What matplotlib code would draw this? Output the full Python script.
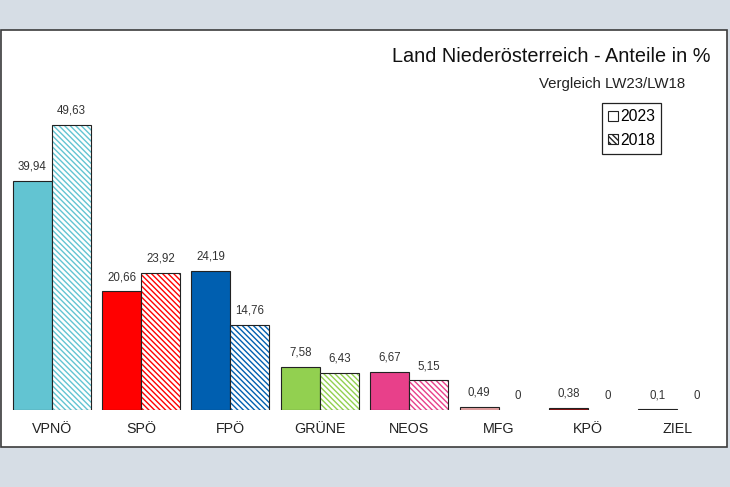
import matplotlib
matplotlib.use("Agg")
import matplotlib.pyplot as plt
from matplotlib.patches import Rectangle, Patch
import numpy as np

parties = ["VPNÖ", "SPÖ", "FPÖ", "GRÜNE", "NEOS", "MFG", "KPÖ", "ZIEL"]
values_2023 = [39.94, 20.66, 24.19, 7.58, 6.67, 0.49, 0.38, 0.1]
values_2018 = [49.63, 23.92, 14.76, 6.43, 5.15, 0, 0, 0]
colors = ["#62c4d2", "#ff0000", "#005fb0", "#92d050", "#e8408a", "#e8a4a4", "#8b1212", "#1a1a1a"]
series_labels = ["2023", "2018"]
title = "Land Niederösterreich - Anteile in %"
subtitle = "Vergleich LW23/LW18"

plt.rcParams['font.family'] = ['Liberation Sans', 'DejaVu Sans']
plt.rcParams['hatch.linewidth'] = 1.0

W, H = 730, 487
fig = plt.figure(figsize=(W / 100, H / 100), dpi=100, facecolor="#d6dde5")

# white panel
fig.patches.append(Rectangle((1 / W, (H - 447) / H), 726 / W, 417 / H,
                             transform=fig.transFigure, facecolor="white",
                             edgecolor="#3c3c3c", linewidth=1.2, zorder=-5))

ax = fig.add_axes([7 / W, (H - 410) / H, 715 / W, 370 / H])
ax.set_zorder(2)
ax.set_facecolor("none")
ax.set_xlim(-0.5, len(parties) - 0.5)
ax.set_ylim(0, 64.5)
for s in ax.spines.values():
    s.set_visible(False)
ax.set_yticks([])

x = np.arange(len(parties))
w = 0.436
hatch = "\\\\\\\\\\\\"

def fmt(v):
    return f"{v:g}".replace(".", ",")

lw23 = [0.8 if v > 0 else 0 for v in values_2023]
lw18 = [0.8 if v > 0 else 0 for v in values_2018]

# 2023 bars
ax.bar(x - w / 2, values_2023, w, color=colors, edgecolor="#222222", linewidth=lw23, zorder=2)
# 2018 bars: hatched
ax.bar(x + w / 2, values_2018, w, facecolor="white", edgecolor=colors, hatch=hatch,
       linewidth=0, zorder=2)
ax.bar(x + w / 2, values_2018, w, fill=False, edgecolor="#222222", linewidth=lw18, zorder=3)

for xi, v in zip(x - w / 2, values_2023):
    ax.annotate(fmt(v), (xi, v), xytext=(0, 6), textcoords="offset points",
                ha="center", va="bottom", fontsize=8.3, color="#333333")
for xi, v in zip(x + w / 2, values_2018):
    ax.annotate(fmt(v), (xi, v), xytext=(0, 6), textcoords="offset points",
                ha="center", va="bottom", fontsize=8.3, color="#333333")

ax.set_xticks(x)
ax.set_xticklabels(parties, fontsize=10.3, color="#222222")
ax.tick_params(axis="x", length=0, pad=8.5)

fig.text(710 / W, 1 - 57 / H, title, ha="right", va="center", fontsize=14.3, color="#111111")
fig.text(685 / W, 1 - 84 / H, subtitle, ha="right", va="center", fontsize=10.8, color="#222222")

handles = [Patch(facecolor="white", edgecolor="#222222", linewidth=0.8),
           Patch(facecolor="white", edgecolor="#222222", hatch=hatch, linewidth=0.8)]
leg = fig.legend(handles, series_labels, loc="upper left",
                 bbox_to_anchor=(602 / W, 1 - 103 / H), fontsize=11.3,
                 handlelength=0.6, handleheight=0.6, handletextpad=0.15,
                 borderpad=0.4, labelspacing=0.55, borderaxespad=0,
                 fancybox=False, framealpha=1, edgecolor="#222222")
leg.get_frame().set_linewidth(0.9)

fig.savefig("out.png", dpi=100, facecolor=fig.get_facecolor())
